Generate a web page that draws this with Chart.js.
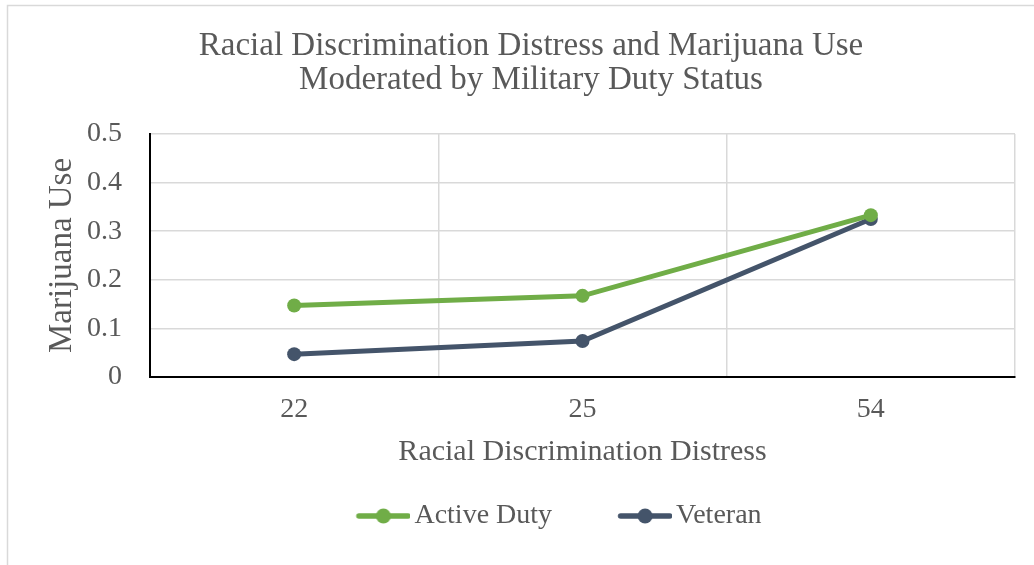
<!DOCTYPE html>
<html><head><meta charset="utf-8">
<script src="https://cdn.jsdelivr.net/npm/chart.js@4.4.0/dist/chart.umd.min.js"></script>
<style>html,body{margin:0;padding:0;background:#fff;overflow:hidden}#wrap{position:relative;width:1034px;height:565px}</style>
</head><body><div id="wrap"><canvas id="c" width="1034" height="565"></canvas></div>
<script>
const categories = ['22', '25', '54'];
const activeDuty = [0.147, 0.167, 0.333];
const veteran = [0.047, 0.074, 0.325];
const seriesNames = ['Active Duty', 'Veteran'];
const seriesColors = ['#70AD47', '#44546A'];
const yTickLabels = ['0', '0.1', '0.2', '0.3', '0.4', '0.5'];
const titleLines = ['Racial Discrimination Distress and Marijuana Use', 'Moderated by Military Duty Status'];
const xTitle = 'Racial Discrimination Distress';
const yTitle = 'Marijuana Use';

const FAMILY = "'Liberation Serif', 'Times New Roman', serif";
const TEXT = '#595959';
const GRID = '#d9d9d9';

function legendIcon(color) {
  const c = document.createElement('canvas');
  c.width = 120; c.height = 18;
  const g = c.getContext('2d');
  g.strokeStyle = color; g.lineWidth = 5.5; g.lineCap = 'round';
  g.beginPath(); g.moveTo(68.5, 9); g.lineTo(117.5, 9); g.stroke();
  g.fillStyle = color; g.beginPath(); g.arc(93, 9, 7.5, 0, Math.PI * 2); g.fill();
  return c;
}

const bgPlugin = {
  id: 'bg',
  beforeDraw(chart) {
    const ctx = chart.ctx;
    ctx.save();
    ctx.fillStyle = '#fff';
    ctx.fillRect(0, 0, chart.width, chart.height);
    ctx.strokeStyle = GRID; ctx.lineWidth = 1.5;
    ctx.strokeRect(7.5, 5.5, chart.width + 20, chart.height + 20);
    ctx.restore();
  }
};

const data = {
  labels: categories,
  datasets: [
    { label: seriesNames[0], data: activeDuty },
    { label: seriesNames[1], data: veteran }
  ].map((d, i) => Object.assign(d, {
    borderColor: seriesColors[i], backgroundColor: seriesColors[i],
    pointBackgroundColor: seriesColors[i], pointBorderColor: seriesColors[i],
    borderWidth: 5, pointRadius: 7, pointBorderWidth: 0, tension: 0, fill: false
  }))
};

new Chart(document.getElementById('c'), {
  type: 'line',
  data,
  plugins: [bgPlugin],
  options: {
    responsive: false, animation: false, devicePixelRatio: 1,
    layout: { padding: { left: 47, right: 19, top: 0, bottom: 25 } },
    plugins: {
      title: {
        display: true, text: titleLines, color: TEXT,
        font: { family: FAMILY, size: 33, weight: 'normal', lineHeight: 1.015 },
        padding: { top: 29.75, bottom: 37.25 }
      },
      legend: {
        position: 'bottom',
        labels: {
          usePointStyle: true, pointStyleWidth: 100, padding: 10, color: TEXT,
          font: { family: FAMILY, size: 28 },
          generateLabels(chart) {
            const items = Chart.defaults.plugins.legend.labels.generateLabels(chart);
            items.forEach((it, i) => { it.pointStyle = legendIcon(seriesColors[i]); });
            return items;
          }
        }
      },
      tooltip: { enabled: false }
    },
    scales: {
      x: {
        type: 'category', offset: true,
        grid: { offset: true, color: GRID, lineWidth: 1.5, drawTicks: false },
        border: { color: '#000', width: 2 },
        ticks: { color: TEXT, font: { family: FAMILY, size: 28 }, padding: 16 },
        title: { display: true, text: xTitle, color: TEXT, font: { family: FAMILY, size: 30 }, padding: { top: 0, bottom: 21.5 } },
        afterFit(s) { s.height = 115; }
      },
      y: {
        min: 0, max: 0.5,
        grid: { color: GRID, lineWidth: 1.5, drawTicks: false },
        border: { color: '#000', width: 2 },
        ticks: {
          stepSize: 0.1, color: TEXT, font: { family: FAMILY, size: 28 }, padding: 28,
          callback: (v) => yTickLabels[Math.round(v * 10)]
        },
        title: { display: true, text: yTitle, color: TEXT, font: { family: FAMILY, size: 33, lineHeight: 0.9 }, padding: { top: 0, bottom: 0 } },
        afterFit(s) { s.width = 103; }
      }
    }
  }
});
</script>
</body></html>
